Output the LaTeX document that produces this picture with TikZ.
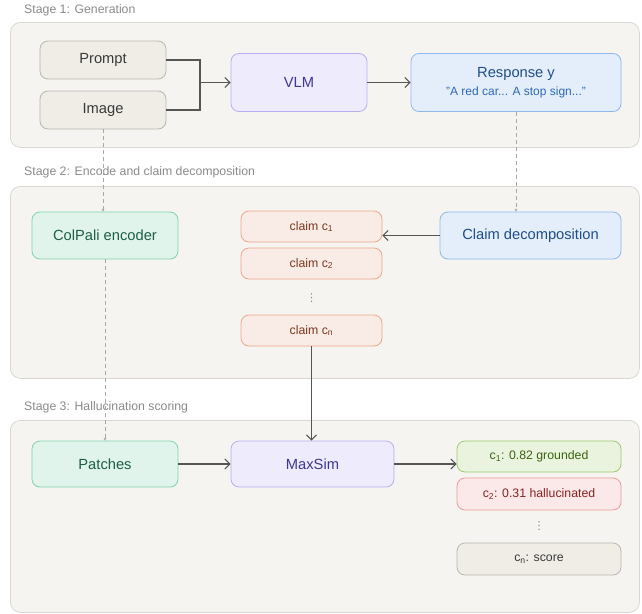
\documentclass[tikz,border=0pt]{standalone}
\usepackage{fontspec}
\setmainfont{Liberation Sans}
\newfontfamily\dejavu{DejaVu Sans}
\usetikzlibrary{arrows.meta}
\definecolor{contfill}{HTML}{F5F4F0}
\definecolor{contdraw}{HTML}{D9D7D0}
\definecolor{grayfill}{HTML}{EFEDE6}
\definecolor{graydraw}{HTML}{B9B6AD}
\definecolor{graytext}{HTML}{3A3A3A}
\definecolor{purpfill}{HTML}{EEEBFC}
\definecolor{purpdraw}{HTML}{B8AEF0}
\definecolor{purptext}{HTML}{3F3790}
\definecolor{bluefill}{HTML}{E4EEFB}
\definecolor{bluedraw}{HTML}{8DB9EE}
\definecolor{bluetext}{HTML}{1F4E86}
\definecolor{bluetext2}{HTML}{2E6AB0}
\definecolor{greenfill}{HTML}{E1F4EC}
\definecolor{greendraw}{HTML}{7FD3B0}
\definecolor{greentext}{HTML}{1D5E45}
\definecolor{claimfill}{HTML}{F9EBE5}
\definecolor{claimdraw}{HTML}{F0A58A}
\definecolor{claimtext}{HTML}{7A3A22}
\definecolor{okfill}{HTML}{EAF3DE}
\definecolor{okdraw}{HTML}{9CCB6A}
\definecolor{oktext}{HTML}{3B6311}
\definecolor{badfill}{HTML}{FBE9E9}
\definecolor{baddraw}{HTML}{EC9A9A}
\definecolor{badtext}{HTML}{8A2222}
\definecolor{stagetext}{HTML}{8A8A8A}
\definecolor{arrowcol}{HTML}{555555}
\definecolor{dashcol}{HTML}{A8A8A8}
\begin{document}
\begin{tikzpicture}[x=1pt,y=-1pt,
  container/.style={draw=contdraw, fill=contfill, rounded corners=10pt, line width=0.8pt},
  stagelabel/.style={anchor=west, text=stagetext, font=\fontsize{12.3}{14}\selectfont, inner sep=0pt},
  box/.style={rounded corners=8pt, line width=0.8pt, align=center, inner sep=0pt, font=\fontsize{14.7}{17}\selectfont},
  smallbox/.style={box, minimum height=31pt, font=\fontsize{12.3}{14}\selectfont},
  graybox/.style={box, draw=graydraw, fill=grayfill, text=graytext},
  purpbox/.style={box, draw=purpdraw, fill=purpfill, text=purptext},
  bluebox/.style={box, draw=bluedraw, fill=bluefill, text=bluetext},
  greenbox/.style={box, draw=greendraw, fill=greenfill, text=greentext},
  claimbox/.style={smallbox, draw=claimdraw, fill=claimfill, text=claimtext, minimum width=141pt},
  okbox/.style={smallbox, draw=okdraw, fill=okfill, text=oktext, minimum width=164pt},
  badbox/.style={smallbox, draw=baddraw, fill=badfill, text=badtext, minimum width=164pt},
  scorebox/.style={smallbox, draw=graydraw, fill=grayfill, text=graytext, minimum width=164pt},
  flow/.style={draw=arrowcol, line width=1.1pt},
  flowarrow/.style={flow, -{Straight Barb[length=5pt,width=10pt]}},
  dasharrow/.style={draw=dashcol, line width=0.8pt, dash pattern=on 4pt off 3pt, -{Stealth[length=3pt,width=3pt]}},
  vdots/.style={text=stagetext, font=\dejavu\fontsize{11}{12}\selectfont, inner sep=0pt}
]
\useasboundingbox (0,0) rectangle (642,613);

% containers
\node[container, minimum width=629pt, minimum height=125pt, anchor=north west] (stage1) at (10,22) {};
\node[container, minimum width=629pt, minimum height=192pt, anchor=north west] (stage2) at (10,186) {};
\node[container, minimum width=629pt, minimum height=192pt, anchor=north west] (stage3) at (10,420) {};
\node[stagelabel] (lab1) at (24,10) {Stage 1: Generation};
\node[stagelabel] (lab2) at (24,172) {Stage 2: Encode and claim decomposition};
\node[stagelabel] (lab3) at (24,407) {Stage 3: Hallucination scoring};

% stage 1
\node[graybox, minimum width=126pt, minimum height=38pt] (prompt) at (103,60) {Prompt};
\node[graybox, minimum width=126pt, minimum height=38pt] (image) at (103,110) {Image};
\node[purpbox, minimum width=136pt, minimum height=58pt] (vlm) at (299,82.5) {VLM};
\node[bluebox, minimum width=210pt, minimum height=58pt] (resp) at (516,82.5)
  {Response y\\[1pt]{\color{bluetext2}\fontsize{12}{13}\selectfont "A red car... A stop sign..."}};

% stage 2
\node[greenbox, minimum width=146pt, minimum height=47pt] (colpali) at (105,235.5) {ColPali encoder};
\node[claimbox] (claim1) at (311.5,226.5) {claim c\textsubscript{1}};
\node[claimbox] (claim2) at (311.5,263.5) {claim c\textsubscript{2}};
\node[vdots] (cdots) at (311.5,298) {⋮};
\node[claimbox] (claimn) at (311.5,330.5) {claim c\textsubscript{n}};
\node[bluebox, minimum width=181pt, minimum height=47pt] (decomp) at (530.5,235.5) {Claim decomposition};

% stage 3
\node[greenbox, minimum width=146pt, minimum height=46pt] (patches) at (105,464) {Patches};
\node[purpbox, minimum width=163pt, minimum height=46pt] (maxsim) at (312.5,464) {MaxSim};
\node[okbox] (r1) at (539,456.5) {c\textsubscript{1}: 0.82 grounded};
\node[badbox, minimum height=32pt] (r2) at (539,494) {c\textsubscript{2}: 0.31 hallucinated};
\node[vdots] (rdots) at (539,526) {⋮};
\node[scorebox, minimum height=32pt] (rn) at (539,559) {c\textsubscript{n}: score};

% connectors
\coordinate (join) at (200,82.5);
\draw[flow] (prompt.east) -| (join);
\draw[flow] (image.east) -| (join);
\draw[flowarrow] (join) -- (vlm.west);
\draw[flowarrow] (vlm.east) -- (resp.west);
\draw[dasharrow] (image.south) -- (image.south |- colpali.north);
\draw[dasharrow] (resp.south) -- (resp.south |- decomp.north);
\draw[flowarrow] (decomp.west) -- (decomp.west -| claim1.east);
\draw[dasharrow] (colpali.south) -- (patches.north);
\draw[flowarrow] (claimn.south) -- (claimn.south |- maxsim.north);
\draw[flowarrow] (patches.east) -- (maxsim.west);
\draw[flowarrow] (maxsim.east) -- (maxsim.east -| r1.west);
\end{tikzpicture}
\end{document}
